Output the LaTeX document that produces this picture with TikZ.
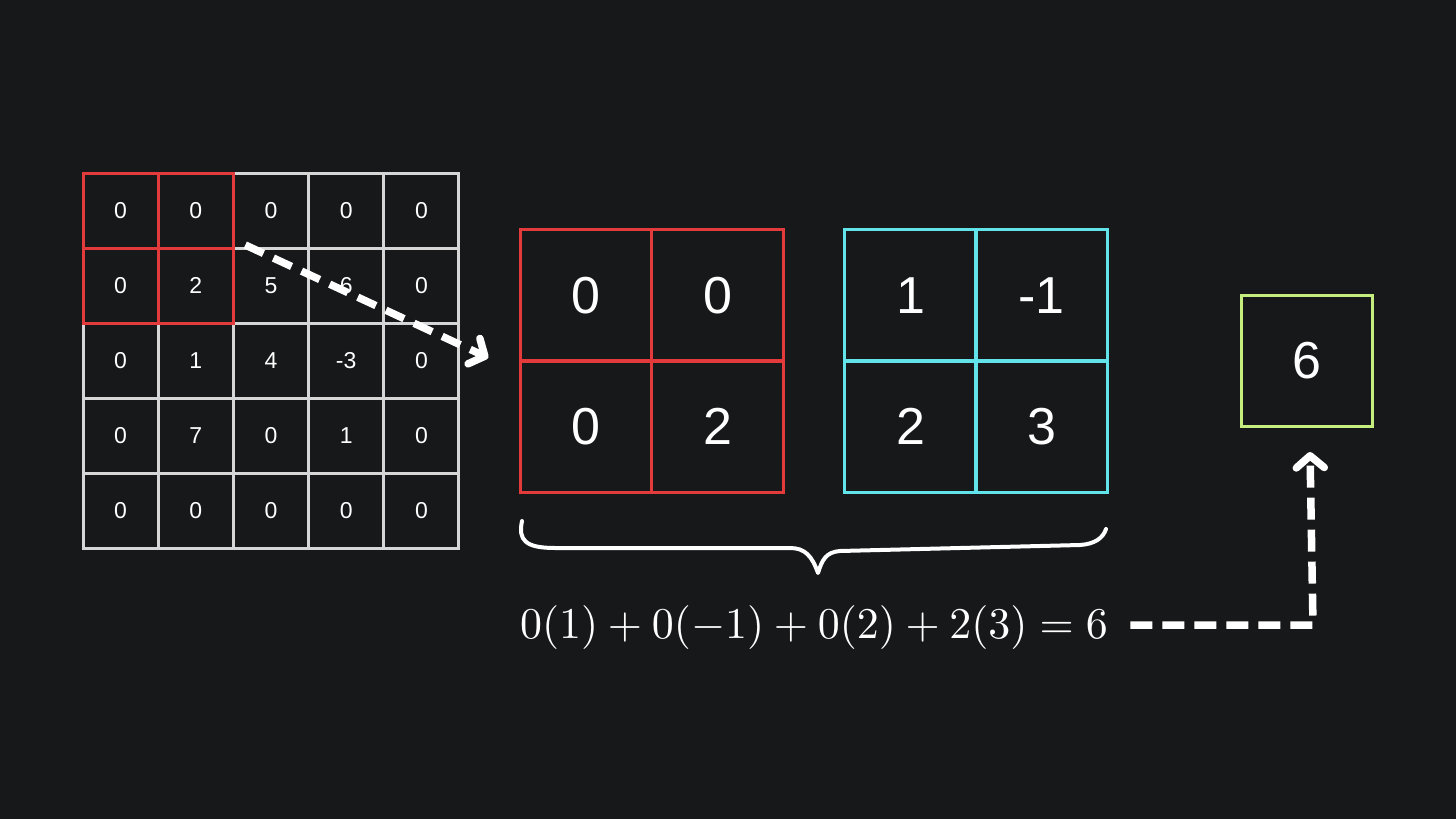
\documentclass[tikz,border=0pt]{standalone}
\usepackage{graphicx}
\usepackage{fontspec}
\setsansfont{Liberation Sans}
\usetikzlibrary{arrows.meta,calc}
\definecolor{bg}{HTML}{17181A}
\definecolor{gridc}{HTML}{D6D6D6}
\definecolor{redc}{HTML}{E33B3B}
\definecolor{cyanc}{HTML}{62E3EA}
\definecolor{greenc}{HTML}{C6EE7E}
\tikzset{
  cell/.style={draw=gridc, line width=3pt, minimum size=75pt, inner sep=0pt, outer sep=0pt, text=white,
    font=\sffamily\fontsize{23}{23}\selectfont},
  bigcell/.style={line width=3pt, minimum size=131.5pt, inner sep=0pt, outer sep=0pt, text=white,
    font=\sffamily\fontsize{52}{52}\selectfont},
  dasharrow/.style={white, line width=7.5pt, dash pattern=on 20pt off 11pt,
    -{Straight Barb[length=12pt,width=28pt,line cap=round,line join=round]}},
}
\begin{document}
\begin{tikzpicture}[x=1pt,y=-1pt]
\path[fill=bg,use as bounding box] (0,0) rectangle (1456,819);
% input grid
\foreach \r/\row in {1/{0,0,0,0,0},2/{0,2,5,6,0},3/{0,1,4,-3,0},4/{0,7,0,1,0},5/{0,0,0,0,0}}{
  \foreach \v [count=\c] in \row {
    \node[cell] (g-\r-\c) at ({83+75.2*(\c-0.5)},{173+75*(\r-0.5)}) {\v};
  }
}
% red window on grid
\draw[redc, line width=3pt] (g-1-1.north west) rectangle (g-2-2.south east);
\draw[redc, line width=3pt] (g-1-2.north west) -- (g-2-2.south west);
\draw[redc, line width=3pt] (g-2-1.north west) -- (g-2-2.north east);
% patch (red)
\node[bigcell, draw=redc] (p11) at (586,295.5) {0};
\node[bigcell, draw=redc] (p12) at (717.5,295.5) {0};
\node[bigcell, draw=redc] (p21) at (586,426.5) {0};
\node[bigcell, draw=redc] (p22) at (717.5,426.5) {2};
% kernel (cyan)
\node[bigcell, draw=cyanc] (k11) at (910.5,295.5) {1};
\node[bigcell, draw=cyanc] (k12) at (1041.5,295.5) {-1};
\node[bigcell, draw=cyanc] (k21) at (910.5,426.5) {2};
\node[bigcell, draw=cyanc] (k22) at (1041.5,426.5) {3};
% result
\node[bigcell, draw=greenc, minimum size=131pt] (res) at (1307,360.5) {6};
% arrow from window to patch
\coordinate (a1s) at ($(g-2-2.north east)+(12,-3)$);
\coordinate (a1e) at ($(p21.north west)+(-32,-3)$);
\draw[dasharrow] (a1s) -- (a1e);
% brace
\draw[white, line width=4pt, line cap=round, line join=round]
  (522,521) .. controls (518,540) and (525,548) .. (555,548)
  -- (790,548) .. controls (805,548) and (812,556) .. (818,573)
  .. controls (822,560) and (826,552) .. (840,551)
  -- (1080,545) .. controls (1095,544) and (1103,538) .. (1106,529);
% equation
\node[text=white, anchor=base west, inner sep=0pt] (eq) at (520,638)
  {\resizebox{588pt}{!}{$0(1)+0(-1)+0(2)+2(3)=6$}};
% arrow from equation to result
\coordinate (a2s) at ($(eq.east)+(22,0)$);
\coordinate (a2e) at ($(res.south)+(3,26)$);
\draw[dasharrow, dash pattern=on 22pt off 10pt] (a2s |- 0,625) -- (1313,625) -- (a2e);
\end{tikzpicture}
\end{document}
